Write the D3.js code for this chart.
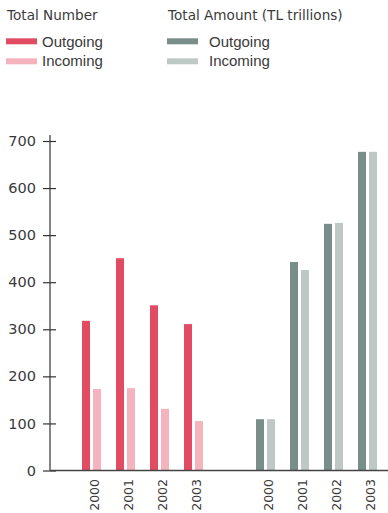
<!DOCTYPE html>
<html>
<head>
<meta charset="utf-8">
<script src="https://cdn.jsdelivr.net/npm/d3@7"></script>
<style>
  html, body { margin: 0; padding: 0; background: #fff; }
  svg { display: block; }
</style>
</head>
<body>
<svg id="chart" width="388" height="513"></svg>
<script>
// Years shown under each panel
const years = ["2000", "2001", "2002", "2003"];

// Total number of transfers
const numberOutgoing = [318, 451, 351, 311];
const numberIncoming = [173, 175, 131, 105];

// Total amount (TL trillions)
const amountOutgoing = [109, 443, 524, 677];
const amountIncoming = [109, 426, 526, 677];

const yTicks = [0, 100, 200, 300, 400, 500, 600, 700];

const colors = {
  numOut: "#e14c63",
  numIn: "#f4b3bd",
  amtOut: "#7a8e89",
  amtIn: "#bec9c6"
};

const svg = d3.select("#chart");
const axisX = 50;

const y = d3.scaleLinear().domain([0, 700]).range([470.5, 141]);

// Two panels share the same value axis
const xLeft = d3.scaleBand().domain(years).range([74.5, 210.5]);
const xRight = d3.scaleBand().domain(years).range([248.5, 384.5]);
const xSub = d3.scaleBand().domain(["out", "in"]).range([7.5, 26.5])
  .paddingInner(3 / 11).paddingOuter(0);

function panel(xScale, outVals, inVals, outColor, inColor) {
  const rows = years.map((yr, i) => ({ year: yr, out: outVals[i], in: inVals[i] }));
  const g = svg.append("g");
  const groups = g.selectAll("g.year").data(rows).join("g")
    .attr("transform", d => `translate(${xScale(d.year)},0)`);
  groups.selectAll("rect")
    .data(d => [{ key: "out", v: d.out, c: outColor }, { key: "in", v: d.in, c: inColor }])
    .join("rect")
    .attr("x", d => xSub(d.key))
    .attr("width", xSub.bandwidth())
    .attr("y", d => y(d.v))
    .attr("height", d => y(0) - y(d.v))
    .attr("fill", d => d.c);

  // Rotated year labels
  g.selectAll("text.year").data(rows).join("text")
    .attr("class", "year")
    .attr("transform", d => `translate(${xScale(d.year) + xScale.bandwidth() / 2 + 2.5},479) rotate(-90)`)
    .attr("text-anchor", "end")
    .attr("dy", "0.36em")
    .attr("font-family", "DejaVu Sans")
    .attr("font-size", 12.5)
    .attr("fill", "#3a3a3a")
    .text(d => d.year);
}

panel(xLeft, numberOutgoing, numberIncoming, colors.numOut, colors.numIn);
panel(xRight, amountOutgoing, amountIncoming, colors.amtOut, colors.amtIn);

// Value axis with ticks crossing the spine
const axis = svg.append("g")
  .attr("transform", `translate(${axisX},0)`)
  .call(d3.axisLeft(y).tickValues(yTicks).tickSize(7).tickPadding(7));
axis.select(".domain").remove();
axis.selectAll(".tick line")
  .attr("x1", -7).attr("x2", 6)
  .attr("stroke", "#333").attr("stroke-width", 1.2);
axis.selectAll(".tick text")
  .attr("font-family", "DejaVu Sans")
  .attr("font-size", 14.5)
  .attr("fill", "#3a3a3a")
  .attr("x", -14);
axis.append("line")
  .attr("x1", 0).attr("x2", 0)
  .attr("y1", y(700) - 6).attr("y2", y(0))
  .attr("stroke", "#333").attr("stroke-width", 1.2);

// Baseline across both panels
svg.append("line")
  .attr("x1", axisX).attr("x2", 388)
  .attr("y1", y(0)).attr("y2", y(0))
  .attr("stroke", "#444").attr("stroke-width", 1.5);

// Legend
const legend = [
  { x: 6, title: "Total Number", items: [["Outgoing", colors.numOut], ["Incoming", colors.numIn]], textX: 42 },
  { x: 167, title: "Total Amount (TL trillions)", items: [["Outgoing", colors.amtOut], ["Incoming", colors.amtIn]], textX: 209 }
];
legend.forEach(l => {
  svg.append("text")
    .attr("x", l.x + 1).attr("y", 19.5)
    .attr("font-family", "DejaVu Sans")
    .attr("font-size", 13.6)
    .attr("fill", "#3a3a3a")
    .text(l.title);
  l.items.forEach(([label, c], i) => {
    svg.append("rect")
      .attr("x", l.x).attr("y", 38.3 + i * 20)
      .attr("width", 31).attr("height", 6)
      .attr("fill", c);
    svg.append("text")
      .attr("x", l.textX).attr("y", 46.5 + i * 19.5)
      .attr("font-family", "Liberation Sans")
      .attr("font-size", 15)
      .attr("fill", "#3a3a3a")
      .text(label);
  });
});
</script>
</body>
</html>
